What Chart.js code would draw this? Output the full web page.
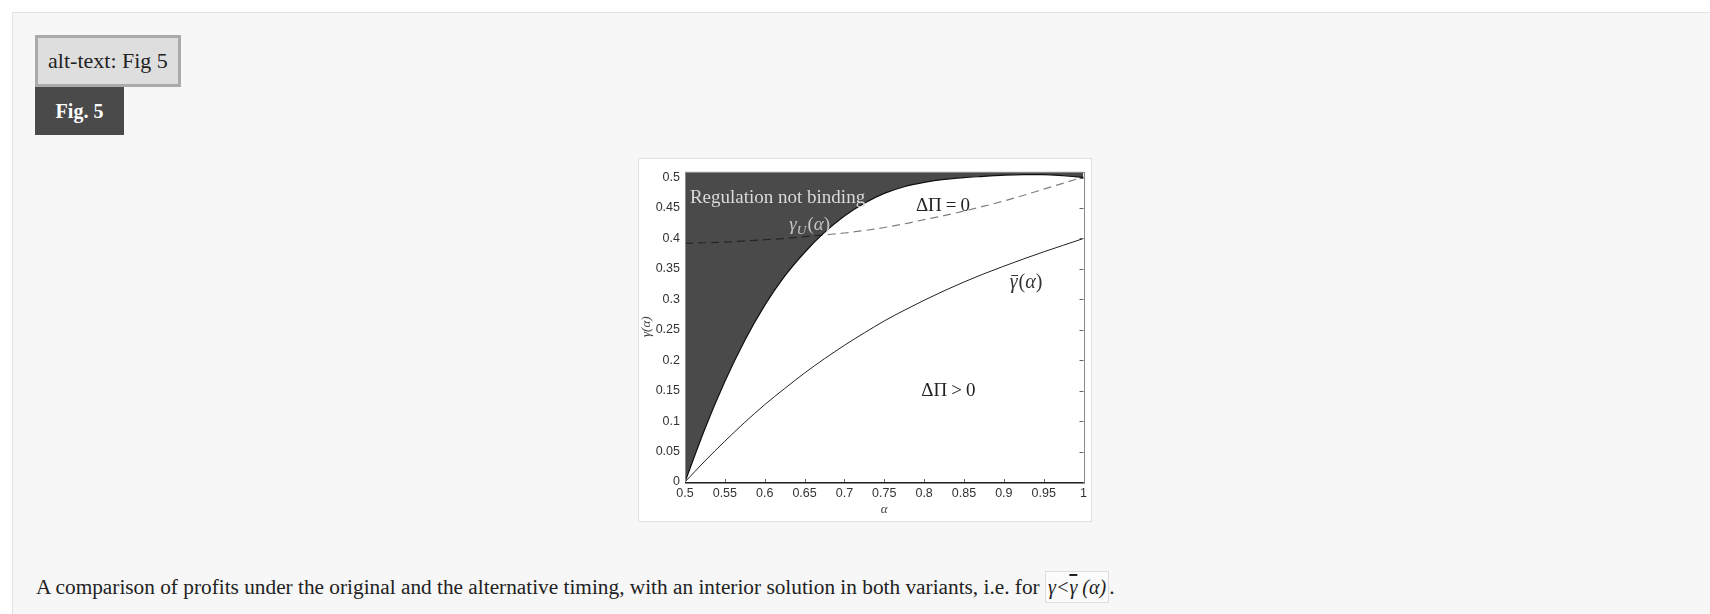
<!DOCTYPE html>
<html>
<head>
<meta charset="utf-8">
<script src="https://cdn.jsdelivr.net/npm/chart.js@4"></script>
<style>
    html, body { margin: 0; padding: 0; background: #fff; }
    body { width: 1710px; height: 614px; overflow: hidden; position: relative; font-family: "Liberation Serif", "Times New Roman", serif; color: #222; }
    .pagina { position: absolute; left: 12px; top: 12px; width: 1720px; height: 620px; background: #f7f7f7; border-top: 1px solid #e2e2e2; border-left: 1px solid #e2e2e2; }
    .alt { position: absolute; left: 35px; top: 35px; width: 140px; height: 46px; background: #dedede; border: 3px solid #aaa; font-size: 22px; line-height: 46px; text-align: center; color: #222; }
    .fig { position: absolute; left: 35px; top: 87px; width: 89px; height: 48px; background: #4a4a4a; color: #fff; font-weight: bold; font-size: 20px; line-height: 48px; text-align: center; }
    .quadro { position: absolute; left: 638px; top: 158px; width: 452px; height: 362px; background: #fff; border: 1px solid #e0e0e0; }
    .legenda { position: absolute; left: 36px; top: 571px; font-size: 21.3px; line-height: 30px; white-space: nowrap; color: #222; }
    .mat { display: inline-block; border: 1px solid #ddd; background: #fbfbfb; padding: 0 2px; line-height: 30px; font-style: italic; font-size: 20px; }
    .barra { text-decoration: overline; }
</style>
</head>
<body>
<div class="pagina"></div>
<div class="alt">alt-text: Fig 5</div>
<div class="fig">Fig. 5</div>
<div class="quadro"><canvas id="grafico" width="452" height="362"></canvas></div>
<div class="legenda">A comparison of profits under the original and the alternative timing, with an interior solution in both variants, i.e. for <span class="mat">γ&lt;<span class="barra">γ</span> (α)</span>.</div>

<script>
// valores
const alfas = [0.5, 0.525, 0.55, 0.575, 0.6, 0.625, 0.65, 0.675, 0.7, 0.725, 0.75,
               0.775, 0.8, 0.825, 0.85, 0.875, 0.9, 0.925, 0.95, 0.975, 1.0];
const gamaU = [0, 0.0875, 0.165, 0.2325, 0.29, 0.338, 0.377, 0.410, 0.437, 0.458, 0.474,
               0.485, 0.492, 0.497, 0.500, 0.502, 0.504, 0.505, 0.505, 0.503, 0.500];
const deltaPiZero = [0.392, 0.393, 0.394, 0.396, 0.398, 0.400, 0.403, 0.406, 0.409, 0.413, 0.418,
                     0.424, 0.431, 0.4375, 0.445, 0.453, 0.4615, 0.471, 0.481, 0.491, 0.501];
const gamaBarra = [0, 0.0345, 0.067, 0.098, 0.127, 0.1535, 0.179, 0.2025, 0.2245, 0.245, 0.2645,
                   0.282, 0.2985, 0.314, 0.3285, 0.342, 0.3545, 0.3665, 0.378, 0.389, 0.400];

const xTicks = [0.5, 0.55, 0.6, 0.65, 0.7, 0.75, 0.8, 0.85, 0.9, 0.95, 1];
const xTickLabels = ['0.5', '0.55', '0.6', '0.65', '0.7', '0.75', '0.8', '0.85', '0.9', '0.95', '1'];
const yTicks = [0, 0.05, 0.1, 0.15, 0.2, 0.25, 0.3, 0.35, 0.4, 0.45, 0.5];
const yTickLabels = ['0', '0.05', '0.1', '0.15', '0.2', '0.25', '0.3', '0.35', '0.4', '0.45', '0.5'];

function pontos(valores) {
    return alfas.map((a, i) => ({ x: a, y: valores[i] }));
}

const serifa = '"Liberation Serif", "Times New Roman", serif';

// desenha texto com partes em itálico, subscrito e barra
function textoRico(ctx, x, y, partes, tamanho, cor) {
    ctx.fillStyle = cor;
    ctx.strokeStyle = cor;
    ctx.textBaseline = 'alphabetic';
    ctx.textAlign = 'left';
    let cx = x;
    partes.forEach(p => {
        const tam = p.sub ? tamanho * 0.7 : tamanho;
        ctx.font = (p.italic ? 'italic ' : '') + tam + 'px ' + serifa;
        const dy = p.sub ? tamanho * 0.22 : 0;
        ctx.fillText(p.t, cx, y + dy);
        const w = ctx.measureText(p.t).width;
        if (p.barra) {
            ctx.lineWidth = 1;
            ctx.beginPath();
            ctx.moveTo(cx + 1.5, y - tamanho * 0.6);
            ctx.lineTo(cx + w + 0.5, y - tamanho * 0.6);
            ctx.stroke();
        }
        cx += w + (p.esp || 0);
    });
}

const rotulos = [
    { a: 0.5062, g: 0.4575, tam: 19, cor: '#dadada', partes: [{ t: 'Regulation not binding' }] },
    { a: 0.6309, g: 0.4147, tam: 19, cor: '#c4c4c4', partes: [{ t: 'γ', italic: true }, { t: 'U', italic: true, sub: true, esp: 1 }, { t: '(' }, { t: 'α', italic: true }, { t: ')' }] },
    { a: 0.7897, g: 0.4443, tam: 19, cor: '#222', partes: [{ t: 'ΔΠ', esp: 4 }, { t: '=', esp: 4 }, { t: '0' }] },
    { a: 0.9074, g: 0.3194, tam: 20, cor: '#333', partes: [{ t: 'γ', italic: true, barra: true, esp: 1 }, { t: '(' }, { t: 'α', italic: true }, { t: ')' }] },
    { a: 0.7964, g: 0.1417, tam: 19, cor: '#222', partes: [{ t: 'ΔΠ', esp: 4 }, { t: '>', esp: 4 }, { t: '0' }] }
];

const pluginMoldura = {
    id: 'moldura',
    afterDatasetsDraw(chart) {
        const { ctx, chartArea: ca, scales } = chart;
        ctx.save();
        // marcas internas
        ctx.strokeStyle = '#666';
        ctx.lineWidth = 1;
        yTicks.forEach(v => {
            const py = Math.round(scales.y.getPixelForValue(v)) + 0.5;
            ctx.beginPath();
            ctx.moveTo(ca.right, py);
            ctx.lineTo(ca.right - 4, py);
            ctx.stroke();
        });
        xTicks.forEach(v => {
            const px = Math.round(scales.x.getPixelForValue(v)) + 0.5;
            ctx.beginPath();
            ctx.moveTo(px, ca.bottom);
            ctx.lineTo(px, ca.bottom - 3);
            ctx.stroke();
        });
        // caixa
        ctx.strokeStyle = '#888';
        ctx.strokeRect(Math.round(ca.left) + 0.5, Math.round(ca.top) + 0.5, Math.round(ca.right - ca.left), Math.round(ca.bottom - ca.top));
        ctx.strokeStyle = '#222';
        ctx.beginPath();
        ctx.moveTo(ca.left, Math.round(ca.bottom) + 0.5);
        ctx.lineTo(ca.right, Math.round(ca.bottom) + 0.5);
        ctx.stroke();

        rotulos.forEach(r => {
            const px = scales.x.getPixelForValue(r.a);
            const py = scales.y.getPixelForValue(r.g);
            textoRico(ctx, px, py, r.partes, r.tam, r.cor);
        });
        ctx.restore();
    }
};

const ctx = document.getElementById('grafico').getContext('2d');
new Chart(ctx, {
    type: 'line',
    data: {
        datasets: [
            {
                label: 'gammaU',
                data: pontos(gamaU),
                borderColor: '#111',
                borderWidth: 1.2,
                backgroundColor: '#4a4a4a',
                fill: 'end',
                pointRadius: 0,
                cubicInterpolationMode: 'monotone',
                order: 3
            },
            {
                label: 'deltaPi',
                data: pontos(deltaPiZero),
                borderColor: 'rgba(0,0,0,0.5)',
                borderWidth: 1.2,
                borderDash: [8, 5],
                fill: false,
                pointRadius: 0,
                cubicInterpolationMode: 'monotone',
                order: 2
            },
            {
                label: 'gammaBarra',
                data: pontos(gamaBarra),
                borderColor: '#222',
                borderWidth: 1,
                fill: false,
                pointRadius: 0,
                cubicInterpolationMode: 'monotone',
                order: 1
            }
        ]
    },
    options: {
        responsive: false,
        animation: false,
        devicePixelRatio: 1,
        layout: { padding: { top: 7, right: 5, left: 0, bottom: 0 } },
        plugins: { legend: { display: false }, tooltip: { enabled: false } },
        scales: {
            x: {
                type: 'linear',
                min: 0.5,
                max: 1,
                afterFit: s => { s.height = 39; },
                afterBuildTicks: s => { s.ticks = xTicks.map(v => ({ value: v })); },
                grid: { display: false, drawTicks: false },
                border: { display: false },
                ticks: {
                    padding: 4,
                    color: '#333',
                    font: { family: '"Liberation Sans", Arial, sans-serif', size: 12.5 },
                    callback: (v) => xTickLabels[xTicks.indexOf(v)]
                },
                title: {
                    display: true,
                    text: 'α',
                    color: '#444',
                    padding: { top: 0, bottom: 4 },
                    font: { family: serifa, style: 'italic', size: 13 }
                }
            },
            y: {
                min: 0,
                max: 0.51,
                afterFit: s => { s.width = 46; },
                afterBuildTicks: s => { s.ticks = yTicks.map(v => ({ value: v })); },
                grid: { display: false, drawTicks: false },
                border: { display: false },
                ticks: {
                    padding: 5,
                    color: '#333',
                    font: { family: '"Liberation Sans", Arial, sans-serif', size: 12.5 },
                    callback: (v) => yTickLabels[yTicks.indexOf(v)]
                },
                title: {
                    display: true,
                    text: 'γ(α)',
                    color: '#444',
                    padding: 0,
                    font: { family: serifa, style: 'italic', size: 13 }
                }
            }
        }
    },
    plugins: [pluginMoldura]
});
</script>
</body>
</html>
